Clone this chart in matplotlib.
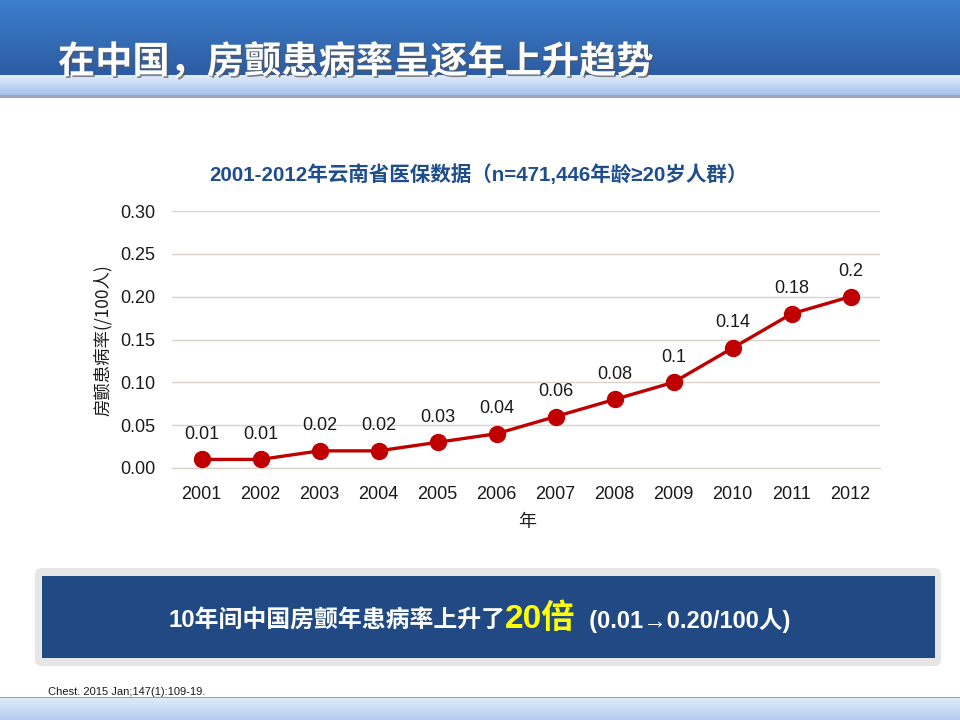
import matplotlib.pyplot as plt
import matplotlib.patheffects as pe
import numpy as np
from matplotlib.patches import FancyBboxPatch, Rectangle

years = ['2001', '2002', '2003', '2004', '2005', '2006',
         '2007', '2008', '2009', '2010', '2011', '2012']
rate = [0.01, 0.01, 0.02, 0.02, 0.03, 0.04, 0.06, 0.08, 0.1, 0.14, 0.18, 0.2]
rate_labels = ['0.01', '0.01', '0.02', '0.02', '0.03', '0.04',
               '0.06', '0.08', '0.1', '0.14', '0.18', '0.2']
yticks = [0.0, 0.05, 0.10, 0.15, 0.20, 0.25, 0.30]

title = '在中国，房颤患病率呈逐年上升趋势'
chart_title = '2001-2012年云南省医保数据（n=471,446年龄≥20岁人群）'
ylabel = '房颤患病率(/100人)'
xlabel = '年'
note_a = '10年间中国房颤年患病率上升了'
note_b = '20倍'
note_c = '  (0.01→0.20/100人)'
cite = 'Chest. 2015 Jan;147(1):109-19.'

mixed = ['Liberation Sans', 'Noto Sans CJK SC', 'DejaVu Sans']
cjk = ['Noto Sans CJK SC', 'DejaVu Sans']
plt.rcParams['font.family'] = mixed

W, H = 960, 720
fig = plt.figure(figsize=(9.6, 7.2), dpi=100)


def fx(x):
    return x / W


def fy(y):
    return 1 - y / H


# header gradient
g = np.linspace(0, 1, 100)[:, None]
hdr = fig.add_axes([0, fy(75), 1, 75 / H])
c1 = np.array([0x3D, 0x7F, 0xCC]) / 255
c2 = np.array([0x2C, 0x5C, 0xA2]) / 255
img = c1 + (c2 - c1) * g[..., None]
hdr.imshow(np.repeat(img, 2, axis=1), aspect='auto', extent=[0, 1, 0, 1])
hdr.axis('off')

band = fig.add_axes([0, fy(95), 1, 20 / H])
c3 = np.array([0xE2, 0xEC, 0xFA]) / 255
c4 = np.array([0xA6, 0xC2, 0xEC]) / 255
img2 = c3 + (c4 - c3) * g[..., None]
band.imshow(np.repeat(img2, 2, axis=1), aspect='auto', extent=[0, 1, 0, 1])
band.axis('off')
fig.add_artist(Rectangle((0, fy(98)), 1, 3 / H, transform=fig.transFigure,
                         color='#9AA6B8', lw=0))

t = fig.text(fx(58), fy(73), title, color='white', fontsize=26.8,
             fontweight='heavy', family=cjk, va='baseline', ha='left', zorder=10)
t.set_path_effects([pe.SimplePatchShadow(offset=(1.2, -1.2), shadow_rgbFace='#555555',
                                         alpha=0.7), pe.Normal()])

# chart
ax = fig.add_axes([fx(172), fy(468), fx(880 - 172), (468 - 211) / H])
x = np.arange(len(years))
ax.plot(x, rate, color='#C00000', lw=2.4, marker='o', markersize=11.5, zorder=3)
for xi, v, s in zip(x, rate, rate_labels):
    ax.annotate(s, (xi, v), xytext=(0, 12), textcoords='offset points',
                ha='center', va='bottom', fontsize=13, color='#1a1a1a')
ax.set_xlim(-0.5, len(years) - 0.5)
ax.set_ylim(0, 0.30)
ax.set_yticks(yticks)
ax.set_yticklabels(['%.2f' % t for t in yticks])
ax.set_xticks(x)
ax.set_xticklabels(years)
ax.tick_params(length=0, labelsize=13, colors='#1a1a1a', pad=12)
ax.tick_params(axis='x', pad=13)
ax.grid(axis='y', color='#D9D4C7', lw=1)
ax.axhline(0, color='#D9D4C7', lw=1, clip_on=False, zorder=0)
ax.set_axisbelow(True)
for sp in ax.spines.values():
    sp.set_visible(False)

fig.text(fx(478), fy(175), chart_title, color='#1F4E8C', fontsize=14.8,
         fontweight='bold', family=mixed, ha='center', va='center')
fig.text(fx(103), fy(340), ylabel, rotation=90, fontsize=12.5, family=cjk,
         ha='center', va='center', color='#1a1a1a')
fig.text(fx(527), fy(522), xlabel, fontsize=13, family=cjk,
         ha='center', va='center', color='#1a1a1a')

# bottom box
fig.add_artist(FancyBboxPatch((fx(35), fy(666)), fx(906), (666 - 568) / H,
                              boxstyle='round,pad=0,rounding_size=0.008',
                              transform=fig.transFigure, facecolor='#E6E6E6',
                              edgecolor='none'))
fig.add_artist(Rectangle((fx(42), fy(658)), fx(893), (658 - 576) / H,
                         transform=fig.transFigure, facecolor='#214A84',
                         edgecolor='none'))

fig.canvas.draw()
r = fig.canvas.get_renderer()
xpos = fx(168)
ybase = fy(628)
for s, col, fs in [(note_a, 'white', 17.2), (note_b, '#FFFF00', 24),
                   (note_c, 'white', 17)]:
    t = fig.text(xpos, ybase, s, color=col, fontsize=fs, fontweight='bold',
                 family=mixed, va='baseline', ha='left')
    bb = t.get_window_extent(renderer=r)
    xpos += bb.width / W

fig.text(fx(48), fy(692), cite, fontsize=8, color='#1a1a1a', va='center')

# bottom band
bot = fig.add_axes([0, 0, 1, 23 / H])
img3 = c3 + (np.array([0xB4, 0xCC, 0xF0]) / 255 - c3) * g[..., None]
bot.imshow(np.repeat(img3, 2, axis=1), aspect='auto', extent=[0, 1, 0, 1])
bot.axis('off')
fig.add_artist(Rectangle((0, fy(698)), 1, 1.5 / H, transform=fig.transFigure,
                         color='#7FA3D8', lw=0))

fig.savefig('out.png', dpi=100)
